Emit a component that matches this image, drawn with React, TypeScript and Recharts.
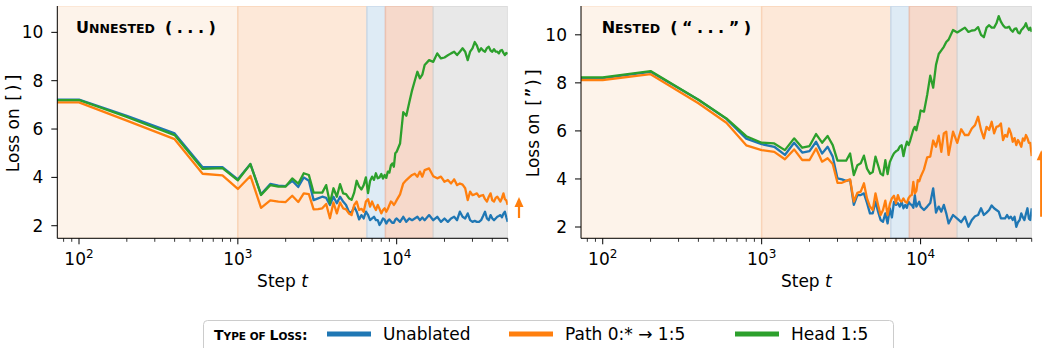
import React from "react";
import { LineChart, Line, XAxis, YAxis, ReferenceArea, ReferenceLine } from "recharts";

const FONT = "DejaVu Sans, sans-serif";
const MONO = "DejaVu Sans Mono, monospace";

// training steps (x)
const steps = [
  50, 100, 200, 400, 600, 800, 1000, 1200, 1400, 1600,
  1800, 2000, 2200, 2400, 2600, 2800, 3000, 3200, 3400, 3600,
  3800, 4000, 4200, 4400, 4600, 4800, 5000, 5200, 5400, 5600,
  5800, 6000, 6200, 6400, 6600, 6800, 7000, 7200, 7400, 7600,
  7800, 8000, 8200, 8400, 8600, 8800, 9000, 9200, 9400, 9600,
  9800, 10000, 10500, 11000, 11500, 12000, 12500, 13000, 13500, 14000,
  14500, 15000, 16000, 17000, 18000, 19000, 20000, 21000, 22000, 23000,
  24000, 25000, 26000, 27000, 28000, 29000, 30000, 31000, 32000, 33000,
  34000, 35000, 36000, 37000, 38000, 39000, 40000, 41000, 42000, 43000,
  44000, 45000, 46000, 47000, 48000, 49000, 50000,
];

// left panel: unnested ( ... )
const unnestedUnablated = [
  7.22, 7.22, 6.55, 5.82, 4.42, 4.42, 3.92, 4.55, 3.3, 3.73,
  3.66, 3.64, 3.86, 3.6, 4.0, 3.86, 3.06, 3.13, 3.2, 3.15,
  2.86, 3.2, 2.93, 3.2, 3.0, 2.86, 2.58, 2.54, 2.79, 2.58,
  2.26, 2.44, 2.3, 2.58, 2.45, 2.23, 2.3, 2.37, 2.23, 2.23,
  2.03, 2.15, 2.3, 2.25, 2.09, 2.2, 2.26, 2.18, 2.12, 2.12,
  2.25, 2.3, 2.16, 2.37, 2.16, 2.3, 2.23, 2.3, 2.37, 2.23,
  2.34, 2.23, 2.44, 2.23, 2.37, 2.16, 2.3, 2.16, 2.3, 2.37,
  2.23, 2.58, 2.37, 2.3, 2.51, 2.23, 2.16, 2.2, 2.16, 2.16,
  2.23, 2.4, 2.58, 2.3, 2.23, 2.44, 2.3, 2.23, 2.3, 2.37,
  2.4, 2.44, 2.35, 2.5, 2.58, 2.35, 2.16,
];
const unnestedPath = [
  7.1, 7.1, 6.35, 5.58, 4.15, 4.08, 3.52, 4.06, 2.74, 3.05,
  3.0, 2.98, 3.24, 2.98, 3.34, 3.31, 2.68, 2.69, 2.72, 2.9,
  2.31, 2.96, 2.51, 2.96, 2.72, 2.68, 2.51, 2.44, 2.86, 3.0,
  2.65, 2.7, 2.58, 3.0, 3.1, 2.79, 3.0, 2.8, 2.65, 2.86,
  2.7, 2.51, 2.65, 2.72, 2.58, 2.7, 2.86, 3.0, 2.95, 2.86,
  2.95, 3.06, 3.3, 3.75, 3.89, 4.0, 4.1, 4.15, 4.03, 4.24,
  4.03, 4.3, 4.37, 4.05, 3.96, 4.03, 3.82, 3.89, 3.75, 3.92,
  3.68, 3.75, 3.7, 3.55, 3.06, 3.41, 3.27, 3.3, 3.34, 3.2,
  3.25, 3.27, 3.1, 3.0, 3.2, 3.34, 3.05, 3.0, 3.15, 3.2,
  3.1, 3.0, 3.15, 3.34, 3.1, 3.05, 2.86,
];
const unnestedHead = [
  7.2, 7.2, 6.5, 5.75, 4.35, 4.38, 3.88, 4.55, 3.27, 3.68,
  3.62, 3.62, 3.96, 3.74, 4.17, 4.1, 3.37, 3.37, 3.37, 3.68,
  2.93, 3.55, 3.2, 3.72, 3.34, 3.31, 3.14, 3.07, 3.37, 3.86,
  3.62, 3.5, 3.68, 4.0, 3.35, 3.85, 4.03, 3.9, 4.17, 3.96,
  4.0, 4.14, 3.95, 4.1, 3.98, 4.24, 4.2, 4.5, 4.58, 4.44,
  5.0, 5.06, 5.4, 6.7, 6.55, 7.1, 7.6, 8.0, 8.37, 8.1,
  8.25, 8.65, 8.85, 8.78, 9.13, 8.92, 8.96, 9.05, 9.13, 9.2,
  9.06, 9.2, 9.34, 9.2, 8.85, 9.2, 9.34, 9.6, 9.45, 9.2,
  9.34, 9.25, 9.2, 9.35, 9.41, 9.25, 9.2, 9.3, 9.2, 9.2,
  9.13, 9.25, 9.27, 9.15, 9.06, 9.15, 9.1,
];

// right panel: nested ( "..." )
const nestedUnablated = [
  8.2, 8.2, 8.46, 7.3, 6.5, 5.68, 5.45, 5.34, 5.0, 5.51,
  5.1, 5.16, 5.55, 5.06, 5.34, 4.93, 4.02, 3.98, 3.92, 3.96,
  2.92, 3.33, 3.33, 3.4, 3.0, 2.57, 2.57, 3.06, 2.64, 2.29,
  2.22, 2.57, 2.15, 2.78, 2.4, 3.05, 2.92, 2.99, 2.85, 3.05,
  2.78, 2.92, 2.8, 3.05, 2.95, 2.92, 2.8, 3.33, 2.85, 2.95,
  3.05, 2.85, 2.71, 2.85, 3.0, 3.61, 2.6, 2.85, 2.64, 2.92,
  2.57, 2.15, 2.5, 2.35, 2.2, 2.43, 2.01, 2.29, 2.45, 2.5,
  2.78, 2.5, 2.6, 2.71, 2.9, 2.78, 2.71, 2.64, 2.36, 2.36,
  2.36, 2.5, 2.36, 2.43, 2.29, 2.43, 2.01, 2.2, 2.29, 2.57,
  2.4, 2.29, 2.55, 2.78, 2.35, 2.29, 2.78,
];
const nestedPath = [
  8.12, 8.12, 8.36, 7.15, 6.34, 5.4, 5.2, 5.13, 4.82, 5.23,
  4.79, 4.79, 5.27, 4.72, 4.86, 4.62, 3.84, 3.84, 3.92, 3.98,
  3.06, 3.42, 3.47, 3.82, 3.19, 2.85, 2.71, 3.4, 2.92, 2.5,
  2.71, 3.1, 2.5, 2.95, 3.2, 3.3, 2.99, 3.33, 3.1, 3.06,
  3.19, 3.05, 3.01, 3.2, 3.3, 3.33, 3.88, 3.4, 3.5, 3.95,
  3.9, 4.08, 4.4, 4.9, 4.93, 5.6, 5.34, 5.8, 5.13, 5.9,
  5.97, 5.0, 5.97, 5.5, 6.07, 5.83, 5.83, 6.1, 6.24, 6.59,
  6.04, 5.69, 6.17, 6.04, 6.38, 5.9, 6.17, 6.2, 6.31, 5.62,
  5.83, 5.76, 6.1, 5.9, 5.55, 5.7, 5.41, 5.62, 5.5, 5.34,
  5.69, 5.6, 5.83, 5.7, 5.5, 5.5, 4.95,
];
const nestedHead = [
  8.23, 8.23, 8.49, 7.3, 6.52, 5.78, 5.51, 5.48, 5.2, 5.69,
  5.3, 5.37, 5.87, 5.51, 5.79, 5.41, 4.76, 4.76, 4.76, 5.06,
  4.16, 4.57, 4.65, 4.97, 4.43, 4.22, 4.29, 4.93, 4.57, 4.22,
  4.15, 4.78, 4.2, 4.7, 4.9, 5.07, 5.15, 5.2, 5.35, 5.4,
  4.95, 5.3, 5.55, 5.41, 5.6, 5.83, 6.05, 6.17, 6.03, 6.3,
  6.52, 6.85, 6.8, 7.5, 8.3, 7.8, 8.75, 9.2, 9.35, 9.5,
  9.7, 9.8, 10.2, 10.1, 10.2, 10.3, 10.12, 10.18, 10.2, 10.32,
  10.0, 9.9, 10.3, 10.4, 10.3, 10.3, 10.48, 10.78, 10.55, 10.4,
  10.3, 10.3, 10.34, 10.2, 10.13, 10.25, 10.27, 10.1, 10.06, 10.2,
  10.27, 10.35, 10.48, 10.3, 10.2, 10.3, 10.12,
];

// gap arrows at the right edge (from unablated to path loss)
const unnestedGap = [2.32, 3.19];
const nestedGap = [2.43, 5.2];

// training phases shaded behind the curves
const phaseEdges = [1000, 6500, 8500, 17000];
const phaseFills = ["#fdf3ea", "#fde8d8", "#deebf5", "#f6d9cb", "#e8e8e8"];
const phaseStrokes = ["#fbe4d0", "#f9d4b8", "#c9d9e9", "#ebc2b1", "#d8d8d8"];

const xDomain: [number, number] = [73, 50000];
const majorTicks = [100, 1000, 10000];
const xTicks = [
  80, 90, 100, 200, 300, 400, 500, 600, 700, 800, 900,
  1000, 2000, 3000, 4000, 5000, 6000, 7000, 8000, 9000,
  10000, 20000, 30000, 40000, 50000,
];
const yTicks = [2, 4, 6, 8, 10];

const series = [
  { key: "unablated", name: "Unablated", color: "#1f77b4" },
  { key: "path", name: "Path 0:* \u2192 1:5", color: "#ff7f0e" },
  { key: "head", name: "Head 1:5", color: "#2ca02c" },
];

function makeRows(a: number[], b: number[], c: number[]) {
  return steps.map((s, i) => ({ step: s, unablated: a[i], path: b[i], head: c[i] }));
}

const unnestedRows = makeRows(unnestedUnablated, unnestedPath, unnestedHead);
const nestedRows = makeRows(nestedUnablated, nestedPath, nestedHead);

function LogTick(props: any) {
  const { x, y, payload } = props;
  const v = payload.value;
  const major = majorTicks.includes(v);
  return (
    <g>
      <line x1={x} x2={x} y1={y} y2={y + (major ? 6 : 3.5)} stroke="#000" strokeWidth={major ? 1 : 0.8} />
      {major && (
        <text x={x} y={y + 27} textAnchor="middle" fontSize={17} fontFamily={FONT} fill="#000">
          10
          <tspan dy={-7} fontSize={12}>
            {Math.round(Math.log10(v))}
          </tspan>
        </text>
      )}
    </g>
  );
}

function XTitle(props: any) {
  const vb = props.viewBox;
  return (
    <text x={vb.x + vb.width / 2} y={vb.y + 49} textAnchor="middle" fontSize={17} fontFamily={FONT} fill="#000">
      Step <tspan fontStyle="italic">t</tspan>
    </text>
  );
}

function YTitle(props: any) {
  const vb = props.viewBox;
  const cx = 19.5;
  const cy = vb.y + vb.height / 2;
  return (
    <text x={cx} y={cy} textAnchor="middle" fontSize={17} fontFamily={FONT} fill="#000" transform={`rotate(-90, ${cx}, ${cy})`}>
      Loss on <tspan fontFamily={MONO}>[{props.token})]</tspan>
    </text>
  );
}

function GapArrow(props: any) {
  const { x1, y1, y2, offset } = props;
  const x = x1 + offset;
  const bottom = Math.max(y1, y2);
  const top = Math.min(y1, y2);
  return (
    <g>
      <line x1={x} x2={x} y1={bottom} y2={top + 8} stroke="#ff7f0e" strokeWidth={2.2} />
      <polygon points={`${x - 4.5},${top + 10} ${x + 4.5},${top + 10} ${x},${top}`} fill="#ff7f0e" />
    </g>
  );
}

function Panel({ rows, yDomain, token, gap, arrowOffset, width, yAxisWidth, marginRight }: any) {
  const bounds = [xDomain[0], ...phaseEdges, xDomain[1]];
  return (
    <LineChart width={width} height={300} data={rows} margin={{ top: 6, right: marginRight, bottom: 0, left: 0 }}>
      {phaseFills.map((fill, i) => (
        <ReferenceArea
          key={i}
          x1={bounds[i]}
          x2={bounds[i + 1]}
          y1={yDomain[0]}
          y2={yDomain[1]}
          fill={fill}
          fillOpacity={1}
          stroke={phaseStrokes[i]}
          strokeWidth={1.5}
          ifOverflow="hidden"
        />
      ))}
      <XAxis
        dataKey="step"
        type="number"
        scale="log"
        domain={xDomain}
        allowDataOverflow
        ticks={xTicks}
        interval={0}
        tick={<LogTick />}
        tickLine={false}
        tickSize={0}
        tickMargin={0}
        height={61.7}
        axisLine={{ stroke: "#000" }}
        label={<XTitle />}
      />
      <XAxis
        xAxisId="top"
        orientation="top"
        type="number"
        scale="log"
        domain={xDomain}
        allowDataOverflow
        height={0}
        tick={false}
        tickLine={false}
        axisLine={{ stroke: "#000" }}
      />
      <YAxis
        type="number"
        domain={yDomain}
        allowDataOverflow
        ticks={yTicks}
        interval={0}
        width={yAxisWidth}
        tickSize={6}
        tickMargin={8}
        tick={{ fontSize: 17, fill: "#000", fontFamily: FONT }}
        tickLine={{ stroke: "#000" }}
        axisLine={{ stroke: "#000" }}
        label={<YTitle token={token} />}
      />
      <YAxis
        yAxisId="right"
        orientation="right"
        type="number"
        domain={yDomain}
        allowDataOverflow
        width={0}
        tick={false}
        tickLine={false}
        axisLine={{ stroke: "#000" }}
      />
      {series.map((s) => (
        <Line
          key={s.key}
          type="linear"
          dataKey={s.key}
          stroke={s.color}
          strokeWidth={2.3}
          strokeLinejoin="round"
          dot={false}
          isAnimationActive={false}
        />
      ))}
      <ReferenceLine
        segment={[
          { x: xDomain[1], y: gap[0] },
          { x: xDomain[1], y: gap[1] },
        ]}
        ifOverflow="visible"
        shape={(p: any) => <GapArrow {...p} offset={arrowOffset} />}
      />
    </LineChart>
  );
}

function Title({ x, big, small, tail }: { x: number; big: string; small: string; tail: string }) {
  return (
    <text x={x} y={33.3} fontFamily={FONT} fontWeight="bold" fontSize={16} fill="#000">
      {big}
      <tspan fontSize={12.5}>{small}</tspan>
      <tspan style={{ letterSpacing: 4.5 }}>{tail}</tspan>
    </text>
  );
}

export default function App() {
  return (
    <div style={{ position: "fixed", left: 0, top: 0, width: 1042, height: 348, background: "#fff", overflow: "hidden" }}>
      <div style={{ position: "absolute", left: 0, top: 0 }}>
        <Panel
          rows={unnestedRows}
          yDomain={[1.48, 11.09]}
          token=""
          gap={unnestedGap}
          arrowOffset={11.3}
          width={532}
          yAxisWidth={57.3}
          marginRight={24.3}
        />
      </div>
      <div style={{ position: "absolute", left: 520, top: 0 }}>
        <Panel
          rows={nestedRows}
          yDomain={[1.53, 11.2]}
          token={"\u201d"}
          gap={nestedGap}
          arrowOffset={9.5}
          width={522}
          yAxisWidth={61}
          marginRight={10.3}
        />
      </div>
      <svg width={1042} height={348} style={{ position: "absolute", left: 0, top: 0, pointerEvents: "none" }}>
        <Title x={76} big="U" small="NNESTED" tail=" (...)" />
        <Title x={601.7} big="N" small="ESTED" tail={" (\u201c...\u201d)"} />
        <rect x={203.5} y={320.5} width={690} height={40} rx={4} fill="#fff" stroke="#cccccc" />
        <text x={214} y={340} fontFamily={FONT} fontWeight="bold" fontSize={14} fill="#000">
          T<tspan fontSize={10.5}>YPE OF </tspan>L<tspan fontSize={10.5}>OSS</tspan>:
        </text>
        {series.map((s, i) => {
          const x0 = [327, 509, 735][i];
          return (
            <g key={s.key}>
              <line x1={x0} x2={x0 + 44} y1={334} y2={334} stroke={s.color} strokeWidth={5} />
              <text x={x0 + 56} y={340} fontFamily={FONT} fontSize={17} fill="#000">
                {s.name}
              </text>
            </g>
          );
        })}
      </svg>
    </div>
  );
}
